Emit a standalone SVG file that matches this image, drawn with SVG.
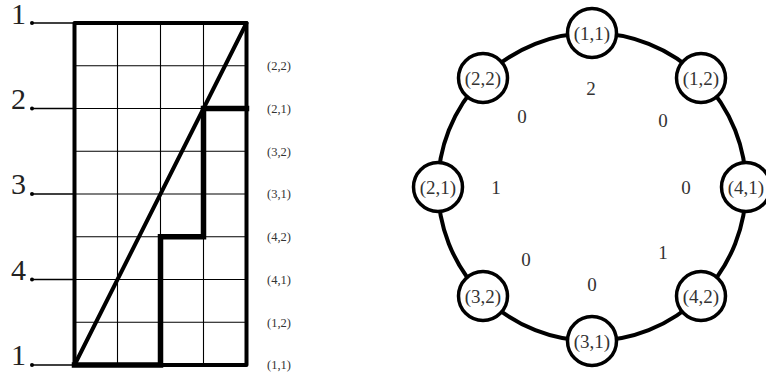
<svg xmlns="http://www.w3.org/2000/svg" width="766" height="373" viewBox="0 0 766 373">
  <style>
    .grid { stroke: #000; stroke-width: 1.1; fill: none; }
    .border { stroke: #000; stroke-width: 4; fill: none; stroke-linejoin: round; }
    .path { stroke: #000; stroke-width: 5.5; fill: none; stroke-linejoin: miter; stroke-linecap: square; }
    .diag { stroke: #000; stroke-width: 4; stroke-linecap: round; }
    .lead { stroke: #000; stroke-width: 1.3; }
    .big { font-family: "Liberation Serif", "DejaVu Serif", serif; font-size: 30px; fill: #222; text-anchor: end; }
    .small { font-family: "Liberation Serif", "DejaVu Serif", serif; font-size: 12.5px; fill: #333; }
    .ring { stroke: #000; stroke-width: 4; fill: none; }
    .node circle { fill: #fff; stroke: #000; stroke-width: 3.5; }
    .node text { font-family: "Liberation Serif", "DejaVu Serif", serif; font-size: 19px; fill: #333; text-anchor: middle; dominant-baseline: central; }
    .w { font-family: "Liberation Serif", "DejaVu Serif", serif; font-size: 19px; fill: #333; text-anchor: middle; dominant-baseline: central; }
  </style>

  <!-- Lattice grid -->
  <g id="grid">
    <g class="grid">
      <line x1="117.5" y1="23" x2="117.5" y2="365"/>
      <line x1="160.5" y1="23" x2="160.5" y2="365"/>
      <line x1="203.5" y1="23" x2="203.5" y2="365"/>
      <line x1="74.5" y1="65.75" x2="246.5" y2="65.75"/>
      <line x1="74.5" y1="108.5" x2="246.5" y2="108.5"/>
      <line x1="74.5" y1="151.25" x2="246.5" y2="151.25"/>
      <line x1="74.5" y1="194" x2="246.5" y2="194"/>
      <line x1="74.5" y1="236.75" x2="246.5" y2="236.75"/>
      <line x1="74.5" y1="279.5" x2="246.5" y2="279.5"/>
      <line x1="74.5" y1="322.25" x2="246.5" y2="322.25"/>
    </g>
    <rect class="border" x="74.5" y="23" width="172" height="342"/>
    <line class="diag" x1="74.5" y1="365" x2="246.5" y2="23"/>
    <polyline class="path" points="74.5,365 160.5,365 160.5,236.75 203.5,236.75 203.5,108.5 246.5,108.5"/>
  </g>

  <!-- Row markers on the left -->
  <g id="markers">
    <g class="lead">
      <line x1="32" y1="23" x2="74.5" y2="23"/>
      <line x1="32" y1="108.5" x2="74.5" y2="108.5"/>
      <line x1="32" y1="194" x2="74.5" y2="194"/>
      <line x1="32" y1="279.5" x2="74.5" y2="279.5"/>
      <line x1="32" y1="365" x2="74.5" y2="365"/>
    </g>
    <g fill="#000">
      <circle cx="32" cy="23" r="2"/>
      <circle cx="32" cy="108.5" r="2"/>
      <circle cx="32" cy="194" r="2"/>
      <circle cx="32" cy="279.5" r="2"/>
      <circle cx="32" cy="365" r="2"/>
    </g>
    <text class="big" x="26" y="23.5">1</text>
    <text class="big" x="26" y="108.5">2</text>
    <text class="big" x="26" y="194">3</text>
    <text class="big" x="26" y="279.5">4</text>
    <text class="big" x="26" y="365">1</text>
  </g>

  <!-- Row labels on the right -->
  <g id="row-labels" class="small">
    <text x="267" y="70">(2,2)</text>
    <text x="267" y="112.5">(2,1)</text>
    <text x="267" y="155.5">(3,2)</text>
    <text x="267" y="198">(3,1)</text>
    <text x="267" y="241">(4,2)</text>
    <text x="267" y="283.5">(4,1)</text>
    <text x="267" y="326.5">(1,2)</text>
    <text x="267" y="369">(1,1)</text>
  </g>

  <!-- Cycle connectors -->
  <g id="connectors">
    <circle class="ring" cx="592" cy="187" r="154"/>
  </g>

  <!-- Weights -->
  <g id="weights" class="w">
    <text x="591" y="88">2</text>
    <text x="522" y="116">0</text>
    <text x="663" y="120">0</text>
    <text x="496" y="187">1</text>
    <text x="686" y="187">0</text>
    <text x="526" y="259">0</text>
    <text x="663" y="252">1</text>
    <text x="592" y="284">0</text>
  </g>

  <!-- Cycle nodes -->
  <g id="n11" class="node"><circle cx="592" cy="33" r="24.5"/><text x="592" y="33">(1,1)</text></g>
  <g id="n12" class="node"><circle cx="701" cy="78" r="24.5"/><text x="701" y="78">(1,2)</text></g>
  <g id="n41" class="node"><circle cx="746" cy="187" r="24.5"/><text x="746" y="187">(4,1)</text></g>
  <g id="n42" class="node"><circle cx="701" cy="296" r="24.5"/><text x="701" y="296">(4,2)</text></g>
  <g id="n31" class="node"><circle cx="592" cy="341" r="24.5"/><text x="592" y="341">(3,1)</text></g>
  <g id="n32" class="node"><circle cx="483" cy="296" r="24.5"/><text x="483" y="296">(3,2)</text></g>
  <g id="n21" class="node"><circle cx="438" cy="187" r="24.5"/><text x="438" y="187">(2,1)</text></g>
  <g id="n22" class="node"><circle cx="483" cy="78" r="24.5"/><text x="483" y="78">(2,2)</text></g>
</svg>
